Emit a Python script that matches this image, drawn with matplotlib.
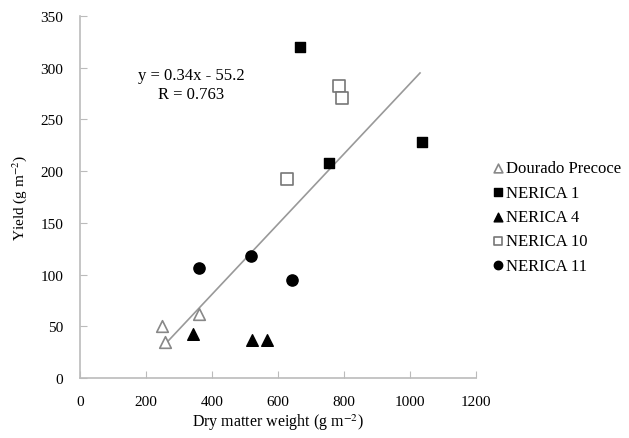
import matplotlib.pyplot as plt

plt.rcParams['font.family'] = ['Liberation Serif', 'DejaVu Serif']
plt.rcParams['mathtext.fontset'] = 'stix'

# data
dourado_x = [248, 258, 360]
dourado_y = [50, 35, 62]
nerica1_x = [667, 755, 1036]
nerica1_y = [320, 208, 228]
nerica4_x = [343, 522, 568]
nerica4_y = [42, 37, 37]
nerica10_x = [627, 785, 795]
nerica10_y = [192, 282, 271]
nerica11_x = [361, 518, 643]
nerica11_y = [106, 118, 95]

slope = 0.34
intercept = -55.2
fit_x = [262, 1030]

fig = plt.figure(figsize=(6.29, 4.39), dpi=100)
ax = fig.add_axes([0.127, 0.137, 0.63, 0.824])

ax.scatter(dourado_x, dourado_y, marker='^', s=70, facecolor='white', edgecolor='#888888', linewidth=1.2, label='Dourado Precoce', zorder=3)
ax.scatter(nerica1_x, nerica1_y, marker='s', s=60, color='black', label='NERICA 1', zorder=3)
ax.scatter(nerica4_x, nerica4_y, marker='^', s=70, color='black', label='NERICA 4', zorder=3)
ax.scatter(nerica10_x, nerica10_y, marker='s', s=70, facecolor='white', edgecolor='#777777', linewidth=1.2, label='NERICA 10', zorder=3)
ax.scatter(nerica11_x, nerica11_y, marker='o', s=65, color='black', label='NERICA 11', zorder=3)

ax.plot(fit_x, [slope * v + intercept for v in fit_x], color='#999999', linewidth=1.2, zorder=2)

ax.text(338, 293, 'y = 0.34x - 55.2', ha='center', va='center', fontsize=12)
ax.text(338, 275, 'R = 0.763', ha='center', va='center', fontsize=12)

ax.set_xlim(0, 1200)
ax.set_ylim(0, 350)
ax.set_xticks(range(0, 1201, 200))
ax.set_yticks(range(0, 351, 50))
for s in ['top', 'right']:
    ax.spines[s].set_visible(False)
for s in ['left', 'bottom']:
    ax.spines[s].set_color('#bbbbbb')
    ax.spines[s].set_linewidth(1.2)
ax.tick_params(direction='in', length=5, color='#bbbbbb', labelsize=11, pad=12)

ax.set_xlabel('Dry matter weight (g m$^{-2}$)', fontsize=11.5, labelpad=3)
ax.set_ylabel('Yield (g m$^{-2}$)', fontsize=11, labelpad=8)

ax.legend(loc='center left', bbox_to_anchor=(0.995, 0.445), frameon=False, fontsize=12,
          handletextpad=0.0, labelspacing=0.5, handlelength=1.0, markerscale=0.75)

fig.savefig('out.png', dpi=100)
